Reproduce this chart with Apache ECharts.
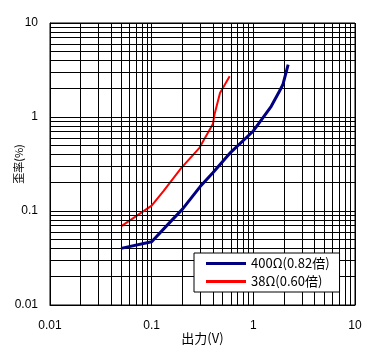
<!DOCTYPE html>
<html><head><meta charset="utf-8">
<script src="https://cdn.jsdelivr.net/npm/echarts@6/dist/echarts.min.js"></script>
<style>html,body{margin:0;padding:0;background:#fff}#c{width:384px;height:353px}</style>
</head><body><div id="c"></div>
<script>
const blueName = '400Ω(0.82倍)';
const redName = '38Ω(0.60倍)';
const blueX = [0.05, 0.1, 0.16, 0.2, 0.3, 0.4, 0.585, 1.0, 1.5, 1.8, 1.95, 2.2];
const blueY = [0.040, 0.047, 0.081, 0.104, 0.182, 0.255, 0.41, 0.71, 1.3, 1.87, 2.2, 3.6];
const redX = [0.05, 0.1, 0.13, 0.195, 0.295, 0.40, 0.415, 0.47, 0.585];
const redY = [0.0686, 0.114, 0.162, 0.286, 0.47, 0.84, 1.06, 1.8, 2.72];
const decades = [0.01, 0.1, 1];
const minorMultipliers = [2, 3, 4, 5, 6, 7, 8, 9];

const minorVals = [];
decades.forEach(d => minorMultipliers.forEach(m => minorVals.push(+(d * m).toPrecision(3))));
const gridMarks = [];
minorVals.forEach(v => { gridMarks.push({ xAxis: v }); gridMarks.push({ yAxis: v }); });

const font = "'Liberation Sans','Noto Sans CJK JP',sans-serif";
const cjk = "'Noto Sans CJK JP',sans-serif";
const chart = echarts.init(document.getElementById('c'), null, { renderer: 'canvas' });
chart.setOption({
  animation: false,
  backgroundColor: '#fff',
  grid: { left: 50, right: 29, top: 23, bottom: 48, containLabel: false, outerBoundsMode: 'none', show: true, borderColor: '#000', borderWidth: 1, backgroundColor: 'transparent' },
  legend: {
    orient: 'vertical', left: 194, top: 253, z: 100, zlevel: 1,
    backgroundColor: '#fff', borderColor: '#000', borderWidth: 1,
    padding: [4, 10, 4, 12], itemGap: 5,
    itemWidth: 40, itemHeight: 3, icon: 'rect',
    textStyle: { fontFamily: cjk, fontSize: 13, color: '#000' },
    data: [blueName, redName]
  },
  xAxis: {
    type: 'log', logBase: 10, min: 0.01, max: 10,
    name: '出力(V)', nameLocation: 'middle', nameGap: 27, nameMoveOverlap: false,
    nameTextStyle: { fontFamily: cjk, fontSize: 13, color: '#000' },
    axisLine: { show: true, lineStyle: { color: '#000', width: 1 } },
    axisTick: { show: false },
    axisLabel: { color: '#000', fontFamily: font, fontSize: 12, margin: 15 },
    splitLine: { show: true, lineStyle: { color: '#000', width: 1 } }
  },
  yAxis: {
    type: 'log', logBase: 10, min: 0.01, max: 10,
    name: '歪率(%)', nameLocation: 'middle', nameGap: 26, nameRotate: 90, nameMoveOverlap: false,
    nameTextStyle: { fontFamily: cjk, fontSize: 11, color: '#000' },
    axisLine: { show: true, lineStyle: { color: '#000', width: 1 } },
    axisTick: { show: false },
    axisLabel: { color: '#000', fontFamily: font, fontSize: 12, margin: 12 },
    splitLine: { show: true, lineStyle: { color: '#000', width: 1 } }
  },
  series: [
    {
      name: 'grid', type: 'line', z: 1, silent: true, showSymbol: false,
      data: [[blueX[0], blueY[0]]], lineStyle: { opacity: 0 },
      markLine: {
        silent: true, symbol: 'none', animation: false,
        label: { show: false },
        lineStyle: { color: '#000', width: 1, type: 'solid' },
        emphasis: { disabled: true },
        data: gridMarks
      }
    },
    {
      name: blueName, type: 'line', z: 5, showSymbol: false, symbol: 'none',
      color: '#000080',
      lineStyle: { color: '#000080', width: 3 },
      data: blueX.map((x, i) => [x, blueY[i]])
    },
    {
      name: redName, type: 'line', z: 4, showSymbol: false, symbol: 'none',
      color: '#ff0000',
      lineStyle: { color: '#ff0000', width: 2 },
      data: redX.map((x, i) => [x, redY[i]])
    }
  ]
});
</script></body></html>
